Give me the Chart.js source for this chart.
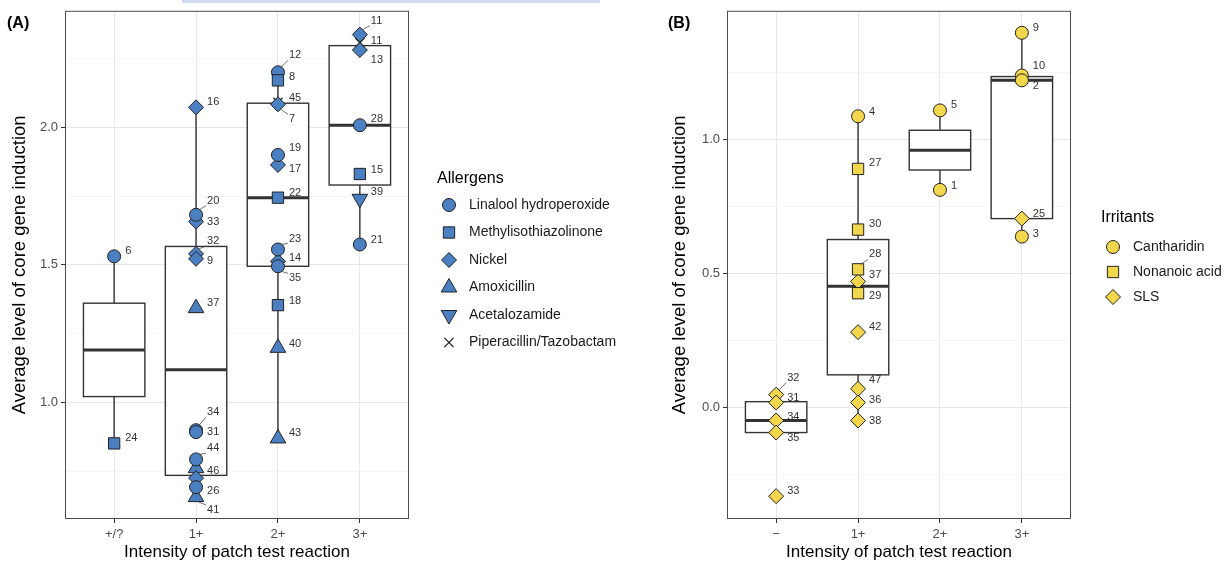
<!DOCTYPE html>
<html lang="en">
<head>
<meta charset="UTF-8">
<title>Core gene induction by patch test reaction</title>
<script src="https://cdn.jsdelivr.net/npm/chart.js"></script>
<style>
  body { margin: 0; background: #fff; font-family: 'Liberation Sans', Arial, sans-serif; }
  .wrap { position: relative; width: 1232px; height: 567px; overflow: hidden; background: #fff; }
  #chartA { position: absolute; left: 0; top: 0; }
  #chartB { position: absolute; left: 660px; top: 0; }
  .topbar { position: absolute; left: 182px; top: 0; width: 418px; height: 3px; background: #cfdcf1; }
</style>
</head>
<body>
<div class="wrap">
  <div class="topbar"></div>
  <canvas id="chartA" width="660" height="567"></canvas>
  <canvas id="chartB" width="572" height="567"></canvas>
</div>

<script>
// ---- data: panel A (allergens) ----
var catsA = ['+/?', '1+', '2+', '3+'];
var ptColA = [0, 0, 1, 1, 1, 1, 1, 1, 1, 1, 1, 1, 1, 1, 1, 2, 2, 2, 2, 2, 2, 2, 2, 2, 2, 2, 2, 2, 3, 3, 3, 3, 3, 3, 3];
var ptValA = [1.531, 0.852,
  2.072, 1.682, 1.657, 1.540, 1.522, 1.343, 0.900, 0.893, 0.794, 0.762, 0.726, 0.693, 0.657,
  2.199, 2.170, 2.090, 2.083, 1.899, 1.863, 1.744, 1.556, 1.513, 1.495, 1.354, 1.199, 0.870,
  2.336, 2.307, 2.280, 2.007, 1.830, 1.740, 1.574];
var ptKindA = ['lin', 'mit',
  'ni', 'lin', 'ni', 'ni', 'ni', 'amx', 'lin', 'lin', 'lin', 'amx', 'ni', 'lin', 'amx',
  'lin', 'mit', 'pip', 'ni', 'lin', 'ni', 'mit', 'lin', 'ni', 'lin', 'mit', 'amx', 'amx',
  'ni', 'pip', 'ni', 'lin', 'mit', 'ace', 'lin'];
var ptLabA = ['6', '24',
  '16', '20', '33', '32', '9', '37', '34', '31', '44', '46', '', '26', '41',
  '12', '8', '45', '7', '19', '17', '22', '23', '14', '35', '18', '40', '43',
  '11', '11', '13', '28', '15', '39', '21'];
var boxQ1A = [1.022, 0.736, 1.495, 1.790];
var boxMedA = [1.191, 1.119, 1.744, 2.007];
var boxQ3A = [1.361, 1.567, 2.087, 2.296];
var whiskLoA = [0.852, 0.657, 0.870, 1.574];
var whiskHiA = [1.531, 2.072, 2.199, 2.336];
var yTicksA = [0.75, 1.0, 1.25, 1.5, 1.75, 2.0, 2.25];

// ---- data: panel B (irritants) ----
var catsB = ['\u2212', '1+', '2+', '3+'];
var ptColB = [0, 0, 0, 0, 0, 1, 1, 1, 1, 1, 1, 1, 1, 1, 1, 2, 2, 3, 3, 3, 3, 3];
var ptValB = [0.048, 0.019, -0.048, -0.093, -0.330,
  1.085, 0.889, 0.663, 0.515, 0.470, 0.426, 0.281, 0.070, 0.019, -0.048,
  1.107, 0.811,
  1.396, 1.237, 1.219, 0.704, 0.637];
var ptKindB = ['sls', 'sls', 'sls', 'sls', 'sls',
  'can', 'non', 'non', 'non', 'sls', 'non', 'sls', 'sls', 'sls', 'sls',
  'can', 'can',
  'can', 'can', 'can', 'sls', 'can'];
var ptLabB = ['32', '31', '34', '35', '33',
  '4', '27', '30', '28', '37', '29', '42', '47', '36', '38',
  '5', '1',
  '9', '10', '2', '25', '3'];
var boxQ1B = [-0.093, 0.122, 0.885, 0.704];
var boxMedB = [-0.048, 0.452, 0.959, 1.219];
var boxQ3B = [0.022, 0.626, 1.033, 1.233];
var whiskLoB = [-0.093, -0.048, 0.811, 0.637];
var whiskHiB = [0.048, 1.085, 1.107, 1.396];
var yTicksB = [-0.25, 0.0, 0.25, 0.5, 0.75, 1.0, 1.25];

// ---- layout: label nudges (px, vertical) like ggrepel placed them ----
var labelDyA = [-5, -5,
  -5, -14, 0, -13, 2, -5, -18, 0, -11, 3, 0, 4, 13,
  -17, -3, -4, 15, -7, 4, -5, -11, -3, 12, -4, -4, -5,
  -14, -2, 10, -6, -4, -7, -5];
var labelDyB = [-17, -5, -4, 5, -5,
  -4, -6, -6, -15, -6, 3, -5, -9, -3, 0,
  -5, -4,
  -5, -10, 6, -5, -3];

var shapeStyles = {
  lin: { shape: 'circle', r: 6.5 },
  mit: { shape: 'rect', r: 8 },
  ni:  { shape: 'rectRot', r: 7.5 },
  amx: { shape: 'triangle', r: 9 },
  ace: { shape: 'triangle', r: 9, rot: 180 },
  pip: { shape: 'crossRot', r: 6.5 },
  can: { shape: 'circle', r: 6.5 },
  non: { shape: 'rect', r: 8 },
  sls: { shape: 'rectRot', r: 7.5 }
};

var FONT = "'Liberation Sans', Arial, sans-serif";

function isMajor(v) {
  return Math.abs(v * 2 - Math.round(v * 2)) < 1e-6;
}

function drawMarker(ctx, st, fill, x, y) {
  ctx.save();
  ctx.fillStyle = st.shape === 'crossRot' ? 'rgba(0,0,0,0)' : fill;
  ctx.strokeStyle = '#222';
  ctx.lineWidth = st.shape === 'crossRot' ? 1.3 : 1;
  if (Chart.helpers && Chart.helpers.drawPoint) {
    Chart.helpers.drawPoint(ctx, { pointStyle: st.shape, rotation: st.rot || 0, radius: st.r, borderWidth: ctx.lineWidth }, x, y);
  } else {
    ctx.beginPath();
    ctx.arc(x, y, st.r, 0, Math.PI * 2);
    ctx.fill();
    ctx.stroke();
  }
  ctx.restore();
}

function panelPlugin(p) {
  return {
    id: 'panel' + p.tag,
    beforeDatasetsDraw: function (chart) {
      var ctx = chart.ctx, xs = chart.scales.x, ys = chart.scales.y;
      ctx.save();
      ctx.strokeStyle = '#333';
      p.q1.forEach(function (q1, i) {
        var xc = xs.getPixelForValue(i);
        var hw = xs.getPixelForValue(i + 0.375) - xc;
        var y1 = ys.getPixelForValue(q1), y3 = ys.getPixelForValue(p.q3[i]);
        var ym = ys.getPixelForValue(p.med[i]);
        var ylo = ys.getPixelForValue(p.lo[i]), yhi = ys.getPixelForValue(p.hi[i]);
        ctx.lineWidth = 1.4;
        ctx.beginPath();
        ctx.moveTo(xc, yhi); ctx.lineTo(xc, y3);
        ctx.moveTo(xc, y1); ctx.lineTo(xc, ylo);
        ctx.stroke();
        ctx.fillStyle = '#fff';
        ctx.fillRect(xc - hw, y3, 2 * hw, y1 - y3);
        ctx.strokeRect(xc - hw, y3, 2 * hw, y1 - y3);
        ctx.lineWidth = 3;
        ctx.beginPath();
        ctx.moveTo(xc - hw, ym); ctx.lineTo(xc + hw, ym);
        ctx.stroke();
      });
      ctx.restore();
    },
    afterDatasetsDraw: function (chart) {
      var ctx = chart.ctx, xs = chart.scales.x, ys = chart.scales.y;
      ctx.save();
      ctx.font = '11px ' + FONT;
      ctx.fillStyle = '#333';
      ctx.strokeStyle = '#333';
      ctx.lineWidth = 0.7;
      ctx.textAlign = 'left';
      ctx.textBaseline = 'middle';
      p.val.forEach(function (v, i) {
        if (!p.lab[i]) return;
        var px = xs.getPixelForValue(p.col[i]), py = ys.getPixelForValue(v);
        var dy = p.dy[i];
        var lx = px + 11, ly = py + dy;
        ctx.fillText(p.lab[i], lx, ly);
        if (Math.abs(dy) >= 11) {
          var s = dy < 0 ? 1 : -1;
          ctx.beginPath();
          ctx.moveTo(lx - 1, ly + s * 5);
          ctx.lineTo(px + 3, py - s * 5);
          ctx.stroke();
        }
      });
      ctx.restore();
    },
    afterDraw: function (chart) {
      var ctx = chart.ctx, a = chart.chartArea;
      ctx.save();
      ctx.strokeStyle = '#4d4d4d';
      ctx.lineWidth = 1;
      ctx.strokeRect(a.left + 0.5, a.top + 0.5, a.right - a.left - 1, a.bottom - a.top - 1);
      // panel tag
      ctx.fillStyle = '#000';
      ctx.font = 'bold 16px ' + FONT;
      ctx.textBaseline = 'middle';
      ctx.textAlign = 'left';
      ctx.fillText(p.tag, p.tagX, 24);
      // legend
      ctx.font = '16px ' + FONT;
      ctx.fillText(p.legendTitle, p.legX, p.legTitleY);
      ctx.font = '14px ' + FONT;
      p.legendOrder.forEach(function (k, j) {
        var y = p.legY0 + j * p.legStep;
        drawMarker(ctx, shapeStyles[k], p.fill, p.legX + 12, y);
        ctx.fillStyle = '#1a1a1a';
        ctx.fillText(p.names[k], p.legX + 32, y);
      });
      ctx.restore();
    }
  };
}

function buildChart(id, p) {
  var datasets = p.drawOrder.map(function (k) {
    var st = shapeStyles[k];
    var pts = [];
    p.val.forEach(function (v, i) {
      if (p.kind[i] === k) pts.push({ x: p.col[i], y: v });
    });
    var cross = st.shape === 'crossRot';
    return {
      label: p.names[k],
      data: pts,
      pointStyle: st.shape,
      pointRotation: st.rot || 0,
      pointRadius: st.r,
      pointHoverRadius: st.r,
      pointBackgroundColor: cross ? 'rgba(0,0,0,0)' : p.fill,
      pointBorderColor: '#222',
      pointBorderWidth: cross ? 1.3 : 1,
      showLine: false
    };
  });

  return new Chart(document.getElementById(id), {
    type: 'scatter',
    data: { datasets: datasets },
    options: {
      responsive: false,
      animation: false,
      layout: { padding: { left: 0, right: p.padRight, top: 8, bottom: 0 } },
      plugins: { legend: { display: false }, tooltip: { enabled: false } },
      scales: {
        x: {
          type: 'linear',
          min: -0.6,
          max: 3.6,
          afterBuildTicks: function (s) { s.ticks = [0, 1, 2, 3].map(function (v) { return { value: v }; }); },
          afterFit: function (s) { s.height = 48; },
          ticks: {
            callback: function (v) { return p.cats[v]; },
            font: { size: 13, family: FONT },
            color: '#4d4d4d',
            padding: 4,
            maxRotation: 0,
            autoSkip: false
          },
          grid: { color: '#e8e8e8', lineWidth: 1, tickLength: 4, tickColor: '#333', tickWidth: 1 },
          border: { display: false },
          title: {
            display: true,
            text: 'Intensity of patch test reaction',
            font: { size: 17, family: FONT },
            color: '#000',
            padding: { top: 0, bottom: 4 }
          }
        },
        y: {
          min: p.ymin,
          max: p.ymax,
          afterBuildTicks: function (s) { s.ticks = p.yTicks.map(function (v) { return { value: v }; }); },
          afterFit: function (s) { s.width = p.axisW; },
          ticks: {
            callback: function (v) { return isMajor(v) ? v.toFixed(1) : ''; },
            font: { size: 13, family: FONT },
            color: '#4d4d4d',
            padding: 3
          },
          grid: {
            color: function (c) { return c.tick && isMajor(c.tick.value) ? '#e6e6e6' : '#f0f0f0'; },
            lineWidth: function (c) { return c.tick && isMajor(c.tick.value) ? 1 : 0.7; },
            tickColor: function (c) { return c.tick && isMajor(c.tick.value) ? '#333' : 'rgba(0,0,0,0)'; },
            tickLength: 4,
            tickWidth: 1
          },
          border: { display: false },
          title: {
            display: true,
            text: 'Average level of core gene induction',
            font: { size: 18.5, family: FONT },
            color: '#000',
            padding: { top: 9, bottom: 0 }
          }
        }
      }
    },
    plugins: [panelPlugin(p)]
  });
}

buildChart('chartA', {
  tag: '(A)', tagX: 7,
  cats: catsA, col: ptColA, val: ptValA, kind: ptKindA, lab: ptLabA, dy: labelDyA,
  q1: boxQ1A, med: boxMedA, q3: boxQ3A, lo: whiskLoA, hi: whiskHiA,
  yTicks: yTicksA, ymin: 0.5776, ymax: 2.4224,
  axisW: 65, padRight: 251,
  fill: '#4a7fc2',
  drawOrder: ['mit', 'lin', 'ni', 'amx', 'ace', 'pip'],
  legendOrder: ['lin', 'mit', 'ni', 'amx', 'ace', 'pip'],
  names: {
    lin: 'Linalool hydroperoxide', mit: 'Methylisothiazolinone', ni: 'Nickel',
    amx: 'Amoxicillin', ace: 'Acetalozamide', pip: 'Piperacillin/Tazobactam'
  },
  legendTitle: 'Allergens', legX: 437, legTitleY: 179, legY0: 205, legStep: 27.5
});

buildChart('chartB', {
  tag: '(B)', tagX: 8,
  cats: catsB, col: ptColB, val: ptValB, kind: ptKindB, lab: ptLabB, dy: labelDyB,
  q1: boxQ1B, med: boxMedB, q3: boxQ3B, lo: whiskLoB, hi: whiskHiB,
  yTicks: yTicksB, ymin: -0.415, ymax: 1.478,
  axisW: 67, padRight: 161,
  fill: '#f2d64b',
  drawOrder: ['non', 'can', 'sls'],
  legendOrder: ['can', 'non', 'sls'],
  names: { can: 'Cantharidin', non: 'Nonanoic acid', sls: 'SLS' },
  legendTitle: 'Irritants', legX: 441, legTitleY: 218, legY0: 247, legStep: 25
});
</script>
</body>
</html>
